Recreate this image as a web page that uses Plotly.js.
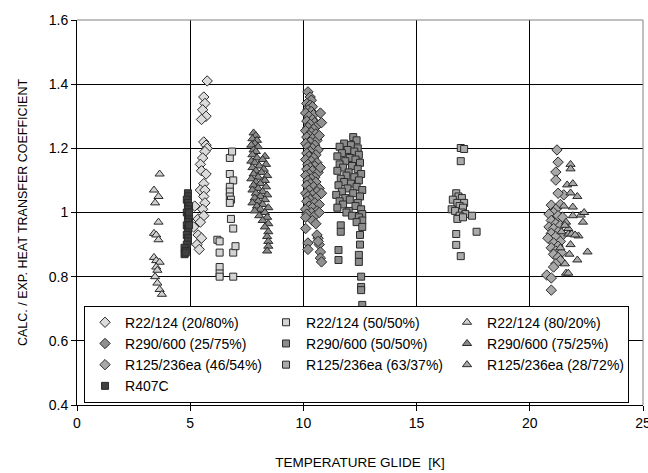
<!DOCTYPE html>
<html><head><meta charset="utf-8">
<script src="https://cdn.plot.ly/plotly-3.0.1.min.js"></script>
<style>html,body{margin:0;padding:0;background:#fff}#chart{width:648px;height:473px}</style>
</head><body><div id="chart"></div>
<script>
// R22/124 (20/80%)
var x1 = [5.75,5.6,5.65,5.55,5.7,5.5,5.6,5.7,5.75,5.65,5.55,5.45,5.5,5.7,5.6,5.45,5.65,5.6,5.2,5.65,5.55,5.35,5.6,5.45,5.15,5.35,5.5,5.3,5.4];
var y1 = [1.41,1.36,1.34,1.32,1.30,1.29,1.22,1.21,1.20,1.19,1.17,1.15,1.13,1.12,1.09,1.07,1.07,1.05,1.02,1.03,1.01,0.98,0.99,0.97,0.955,0.93,0.92,0.90,0.885];
// R22/124 (50/50%)
var x2 = [6.75,6.75,6.9,6.75,6.75,6.75,6.8,6.75,6.8,6.9,6.2,6.3,6.3,6.9,7.0,6.3,6.3,6.3,6.9,6.85];
var y2 = [1.17,1.12,1.10,1.08,1.065,1.05,1.04,1.03,0.98,0.95,0.915,0.91,0.875,0.875,0.895,0.83,0.81,0.80,0.80,1.19];
// R22/124 (80/20%)
var x3 = [3.65,3.4,3.6,3.45,3.6,3.4,3.5,3.6,3.4,3.5,3.65,3.5,3.55,3.45,3.55,3.65,3.75];
var y3 = [1.12,1.07,1.05,1.03,0.97,0.935,0.93,0.915,0.86,0.85,0.845,0.83,0.82,0.80,0.78,0.76,0.745];
// R290/600 (25/75%)
var x4 = [10.2,10.3,10.35,10.15,10.3,10.4,10.2,10.35,10.1,10.45,10.25,10.4,10.15,10.5,10.3,10.6,10.2,10.45,10.1,10.35,10.55,10.25,10.15,10.4,10.6,10.3,10.1,10.5,10.2,10.4,10.65,10.3,10.15,10.55,10.25,10.45,10.1,10.35,10.6,10.2,10.5,10.3,10.15,10.4,10.65,10.25,10.1,10.5,10.35,10.2,10.55,10.3,10.15,10.45,10.7,10.25,10.6,10.1,10.4,10.2,10.55,10.3,10.15,10.5,10.7,10.25,10.4,10.1,10.6,10.35,10.15,10.5,10.1,10.4,10.55,10.1,10.2,10.2,10.65,10.7,10.75,10.75,10.8,10.6,10.65,10.75,10.8,10.7,10.75,10.8,10.7];
var y4 = [1.376,1.36,1.35,1.34,1.335,1.33,1.32,1.315,1.31,1.305,1.30,1.29,1.285,1.28,1.275,1.27,1.265,1.26,1.255,1.25,1.245,1.24,1.235,1.23,1.225,1.22,1.215,1.21,1.205,1.20,1.195,1.19,1.185,1.18,1.175,1.17,1.165,1.16,1.155,1.15,1.145,1.14,1.135,1.13,1.125,1.12,1.115,1.11,1.105,1.10,1.095,1.09,1.085,1.08,1.075,1.07,1.065,1.06,1.055,1.05,1.045,1.04,1.035,1.03,1.025,1.02,1.015,1.01,1.005,1.0,0.995,0.99,0.985,0.975,0.965,0.95,0.905,0.885,0.92,0.90,0.877,0.858,0.846,0.93,0.91,1.31,1.28,1.24,1.14,1.06,1.0];
// R290/600 (50/50%)
var x5 = [12.2,12.35,11.8,12.1,11.6,12.4,11.95,12.25,11.7,12.45,11.5,12.05,12.3,11.85,12.5,11.6,12.15,11.75,12.4,11.5,12.0,12.55,11.9,12.25,11.65,12.45,11.8,12.1,11.55,12.35,11.95,12.6,11.7,12.2,11.45,12.5,11.85,12.05,11.6,12.4,11.75,12.3,11.5,12.55,12.0,11.9,12.6,12.15,12.45,12.6,12.35,12.6,11.65,11.65,11.55,11.55,12.5,12.5,12.45,12.45,12.55,12.55,12.55,12.6];
var y5 = [1.235,1.225,1.215,1.21,1.205,1.20,1.195,1.19,1.185,1.18,1.175,1.17,1.165,1.16,1.155,1.15,1.145,1.14,1.135,1.13,1.125,1.12,1.115,1.11,1.105,1.10,1.095,1.09,1.085,1.08,1.075,1.07,1.065,1.06,1.055,1.05,1.045,1.04,1.035,1.03,1.025,1.02,1.015,1.01,1.005,1.0,0.995,0.99,0.985,0.975,0.97,0.955,0.96,0.94,0.883,0.852,0.93,0.90,0.868,0.846,0.80,0.768,0.758,0.712];
// R290/600 (75/25%)
var x6 = [7.8,7.9,7.75,7.95,7.85,7.7,8.0,7.8,7.9,7.75,8.3,7.95,8.2,7.7,7.85,8.35,8.05,7.75,8.25,7.9,8.15,7.8,8.4,8.0,7.7,8.3,7.9,8.1,7.8,8.35,8.0,7.75,8.2,7.9,8.4,8.1,7.85,8.3,8.0,7.75,8.2,7.95,8.45,8.1,7.85,8.3,8.05,8.4,8.2,8.45,8.3,8.45,8.4,8.45,8.45,8.4];
var y6 = [1.248,1.24,1.23,1.225,1.215,1.21,1.205,1.195,1.19,1.18,1.175,1.17,1.165,1.16,1.155,1.15,1.145,1.14,1.135,1.13,1.125,1.12,1.115,1.11,1.105,1.10,1.095,1.09,1.085,1.08,1.075,1.07,1.065,1.06,1.055,1.05,1.045,1.04,1.035,1.03,1.025,1.02,1.015,1.01,1.005,1.0,0.99,0.985,0.975,0.965,0.955,0.94,0.925,0.91,0.895,0.88];
// R125/236ea (46/54%)
var x7 = [21.2,21.25,21.15,21.15,21.5,21.25,20.95,21.35,21.15,21.05,20.85,21.25,21.45,20.95,21.15,21.35,20.85,21.05,21.25,20.95,21.45,21.15,20.8,21.35,21.05,21.25,20.95,21.15,21.4,21.05,21.25,21.35,21.15,21.05,20.75,20.95,20.95];
var y7 = [1.195,1.157,1.126,1.101,1.055,1.06,1.023,1.025,1.01,1.0,0.995,0.99,0.985,0.975,0.965,0.96,0.955,0.95,0.94,0.935,0.93,0.925,0.92,0.91,0.905,0.895,0.89,0.88,0.875,0.87,0.86,0.85,0.84,0.83,0.805,0.796,0.758];
// R125/236ea (63/37%)
var x8 = [16.95,17.1,16.95,16.75,16.85,17.0,16.6,16.8,17.1,16.9,17.05,16.55,16.7,17.0,17.15,16.9,17.45,16.8,17.05,17.65,16.75,16.75,16.95];
var y8 = [1.201,1.198,1.16,1.06,1.05,1.045,1.04,1.03,1.03,1.02,1.015,1.01,1.005,1.0,0.995,0.99,0.99,0.98,0.985,0.94,0.933,0.899,0.864];
// R125/236ea (28/72%)
var x9 = [21.8,21.8,21.65,21.8,21.9,22.25,22.35,21.6,21.9,21.7,21.85,22.15,22.55,22.1,21.6,21.7,21.7,21.55,22.0,21.8,22.4,21.5,22.1,21.75,21.55,21.35,21.4,21.9];
var y9 = [1.15,1.136,1.086,1.061,1.017,0.992,0.97,0.97,0.99,0.933,0.933,0.927,0.877,0.852,0.811,0.811,0.95,0.96,0.93,0.90,1.0,1.02,1.05,0.87,0.84,0.89,0.94,1.09];
// R407C
var x10 = [4.9,4.9,4.85,4.9,4.95,4.9,4.85,4.9,4.95,4.9,4.85,4.9,4.9,4.85,4.9,4.9,4.85,4.75,4.8,4.75,4.8,4.95,4.95];
var y10 = [1.06,1.05,1.04,1.03,1.02,1.01,1.0,0.99,0.98,0.97,0.96,0.95,0.94,0.93,0.92,0.91,0.90,0.89,0.88,0.87,0.875,1.00,0.96];

var names = ["R22/124 (20/80%)","R22/124 (50/50%)","R22/124 (80/20%)",
             "R290/600 (25/75%)","R290/600 (50/50%)","R290/600 (75/25%)",
             "R125/236ea (46/54%)","R125/236ea (63/37%)","R125/236ea (28/72%)","R407C"];
var xs = [x1,x2,x3,x4,x5,x6,x7,x8,x9,x10];
var ys = [y1,y2,y3,y4,y5,y6,y7,y8,y9,y10];
var symbols = ["diamond","square","triangle-up","diamond","square","triangle-up","diamond","square","triangle-up","square"];
var fills = ["#dcdcdc","#d4d4d4","#d0d0d0","#909090","#8c8c8c","#8a8a8a","#a8a8a8","#aaaaaa","#a8a8a8","#404040"];
var sizes = {"diamond":8,"square":7,"triangle-up":8};

var data = names.map(function(n,i){
  return {
    type:"scatter", mode:"markers", name:n, x:xs[i], y:ys[i],
    marker:{symbol:symbols[i], size:sizes[symbols[i]], color:fills[i],
            line:{color:"#2a2a2a", width:1}}
  };
});

var font = "Liberation Sans, Arial, sans-serif";
var layout = {
  width:648, height:473,
  margin:{l:77, r:5, t:20, b:68},
  paper_bgcolor:"#fff", plot_bgcolor:"#fff",
  font:{family:font, size:14, color:"#000"},
  showlegend:true,
  xaxis:{range:[0,25], dtick:5, tick0:0, showgrid:true, gridcolor:"#000", gridwidth:1,
         zeroline:false, showline:true, linecolor:"#000", linewidth:1,
         ticks:"outside", ticklen:5, tickcolor:"#000", ticklabeloverflow:"allow",
         tickfont:{family:font, size:14, color:"#000"},
         title:{text:"TEMPERATURE GLIDE  [K]", font:{family:font, size:13.5, color:"#000"}, standoff:27}},
  yaxis:{range:[0.4,1.6], dtick:0.2, tick0:0.4, showgrid:true, gridcolor:"#000", gridwidth:1,
         zeroline:false, showline:true, linecolor:"#000", linewidth:1,
         ticks:"outside", ticklen:5, tickcolor:"#000",
         tickfont:{family:font, size:14, color:"#000"},
         title:{text:"CALC. / EXP. HEAT TRANSFER COEFFICIENT", font:{family:font, size:12.5, color:"#000"}, standoff:18}},
  legend:{orientation:"h", x:0.0124, y:0.258, xanchor:"left", yanchor:"top",
          bgcolor:"#fff", bordercolor:"#000", borderwidth:1,
          font:{family:font, size:14, color:"#000"},
          entrywidth:136, entrywidthmode:"pixels", tracegroupgap:0, itemwidth:30},
  shapes:[
    {type:"line", xref:"paper", yref:"paper", x0:0, x1:1, y0:1, y1:1, line:{color:"#808080", width:1}, layer:"above"},
    {type:"line", xref:"paper", yref:"paper", x0:1, x1:1, y0:0, y1:1, line:{color:"#808080", width:1}, layer:"above"}
  ]
};
Plotly.newPlot("chart", data, layout, {displayModeBar:false, staticPlot:true});
</script></body></html>
